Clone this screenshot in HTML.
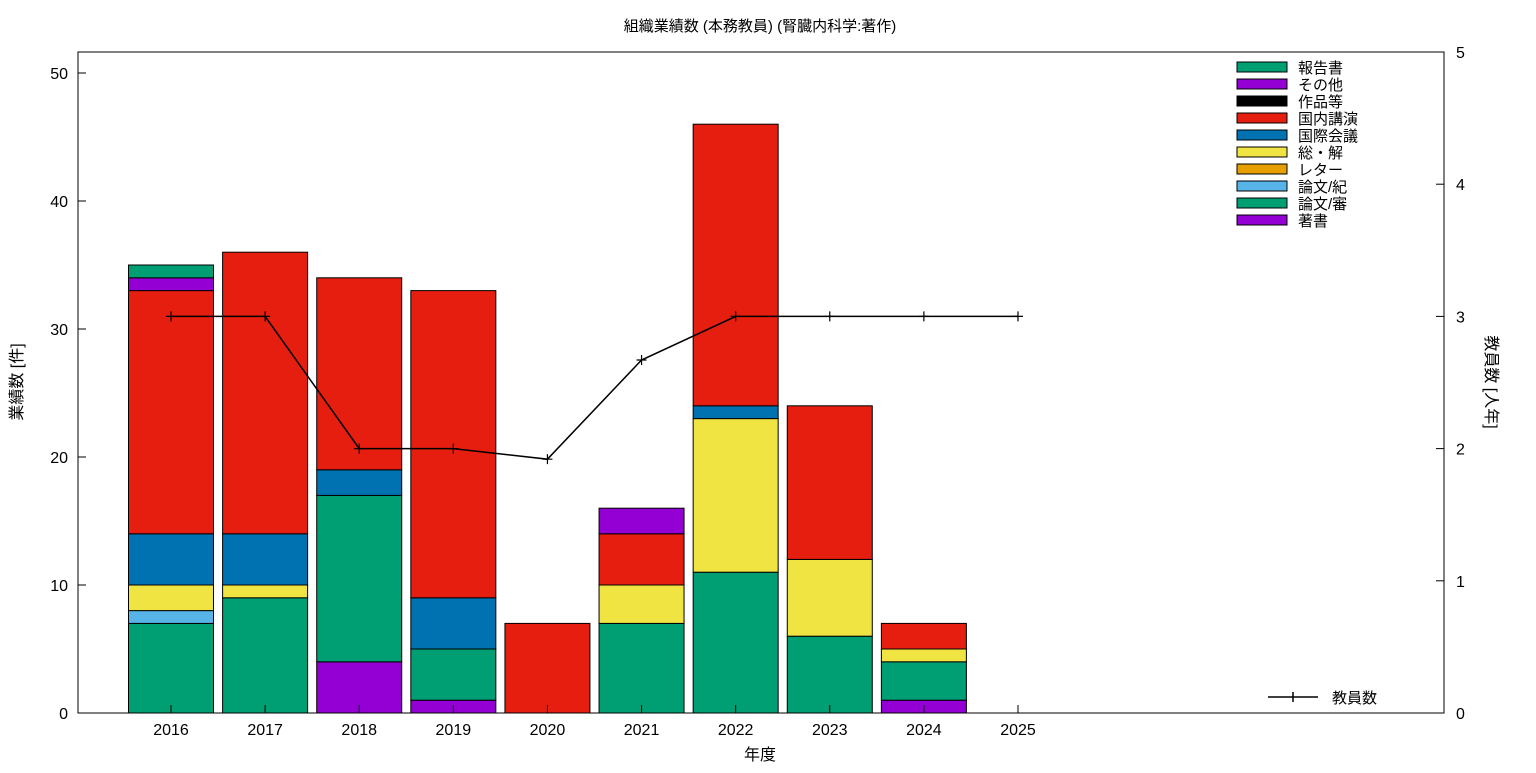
<!DOCTYPE html>
<html><head><meta charset="utf-8"><style>
body{margin:0;background:#fff;}
svg text{font-family:"Liberation Sans","Noto Sans CJK JP",sans-serif;fill:#000;}
</style></head><body>
<svg id="chart" width="1536" height="768" xmlns="http://www.w3.org/2000/svg">
<rect width="1536" height="768" fill="#fff"/>
<text x="760" y="31" font-size="15" text-anchor="middle">組織業績数 (本務教員) (腎臓内科学:著作)</text>
<g id="bars"></g><g id="line"></g><g id="axes"></g><g id="legend"></g>
</svg>
<script>
const years=[2016,2017,2018,2019,2020,2021,2022,2023,2024,2025];
const seriesNames=["著書","論文/審","論文/紀","レター","総・解","国際会議","国内講演","作品等","その他","報告書"];
const seriesColors=["#9400d3","#009e73","#56b4e9","#e69f00","#f0e442","#0072b2","#e51e10","#000000","#9400d3","#009e73"];
const choSho=[0,0,4,1,0,0,0,0,1,0];
const ronbunShin=[7,9,13,4,0,7,11,6,3,0];
const ronbunKiyo=[1,0,0,0,0,0,0,0,0,0];
const letter=[0,0,0,0,0,0,0,0,0,0];
const sokai=[2,1,0,0,0,3,12,6,1,0];
const kokusai=[4,4,2,4,0,0,1,0,0,0];
const kokunai=[19,22,15,24,7,4,22,12,2,0];
const sakuhin=[0,0,0,0,0,0,0,0,0,0];
const sonota=[1,0,0,0,0,2,0,0,0,0];
const hokoku=[1,0,0,0,0,0,0,0,0,0];
const faculty=[3,3,2,2,1.92,2.67,3,3,3,3];
const leftTicks=[0,10,20,30,40,50];
const rightTicks=[0,1,2,3,4,5];
const series=[choSho,ronbunShin,ronbunKiyo,letter,sokai,kokusai,kokunai,sakuhin,sonota,hokoku];
const NS="http://www.w3.org/2000/svg";
const L=78,R=1444,T=52,B=713;
const x=v=>171+(v-2016)*94.11;
const yL=v=>B-v*12.8;
const yR=v=>B-v*(B-T)/5;
function mk(tag,attrs,parent,text){const e=document.createElementNS(NS,tag);for(const k in attrs)e.setAttribute(k,attrs[k]);if(text!==undefined)e.textContent=text;parent.appendChild(e);return e;}
const gb=document.getElementById('bars');
years.forEach((yr,i)=>{let acc=0;series.forEach((s,j)=>{const v=s[i];if(v>0){const r=mk('rect',{x:x(yr)-42.5,y:yL(acc+v),width:85,height:yL(acc)-yL(acc+v),fill:seriesColors[j],stroke:'#000','stroke-width':1},gb);

}acc+=v;});});
const gl=document.getElementById('line');
const pl=mk('polyline',{points:years.map((yr,i)=>x(yr)+','+yR(faculty[i])).join(' '),fill:'none',stroke:'#000','stroke-width':1.5},gl);


years.forEach((yr,i)=>{const px=x(yr),py=yR(faculty[i]);const m=mk('path',{d:`M${px-5},${py}H${px+5}M${px},${py-5}V${py+5}`,stroke:'#000','stroke-width':1.2},gl);

});
const ga=document.getElementById('axes');
const fr=mk('rect',{x:L,y:T,width:R-L,height:B-T,fill:'none',stroke:'#000','stroke-width':1},ga);


leftTicks.forEach(t=>{mk('path',{d:`M${L},${yL(t)}h8`,stroke:'#000'},ga);const tx=mk('text',{x:L-10,y:yL(t)+6,'font-size':16,'text-anchor':'end'},ga,t);

});
rightTicks.forEach(t=>{mk('path',{d:`M${R},${yR(t)}h-8`,stroke:'#000'},ga);const tx=mk('text',{x:R+12,y:yR(t)+6,'font-size':16},ga,t);

});
years.forEach(yr=>{mk('path',{d:`M${x(yr)},${B}v-8`,stroke:'#000'},ga);const tx=mk('text',{x:x(yr),y:B+22,'font-size':16,'text-anchor':'middle'},ga,yr);

});
const xt=mk('text',{x:760,y:760,'font-size':16,'text-anchor':'middle'},ga,'年度');


const yt=mk('text',{x:0,y:0,'font-size':16,'text-anchor':'middle',transform:'translate(22,382) rotate(-90)'},ga,'業績数 [件]');


const yt2=mk('text',{x:0,y:0,'font-size':16,'text-anchor':'middle',transform:'translate(1486,382) rotate(90)'},ga,'教員数 [人年]');


const gg=document.getElementById('legend');
const order=[9,8,7,6,5,4,3,2,1,0];
order.forEach((j,k)=>{const yy=67+k*17;const g=mk('g',{},gg);


mk('rect',{x:1237,y:yy-5,width:50,height:10,fill:seriesColors[j],stroke:'#000'},g);
mk('text',{x:1298,y:yy+6,'font-size':15},g,seriesNames[j]);});
const lg=mk('g',{},gg);


mk('path',{d:'M1268,697H1318M1293,692V702',stroke:'#000','stroke-width':1.5},lg);
mk('text',{x:1332,y:703,'font-size':15},lg,'教員数');
</script>
</body></html>
